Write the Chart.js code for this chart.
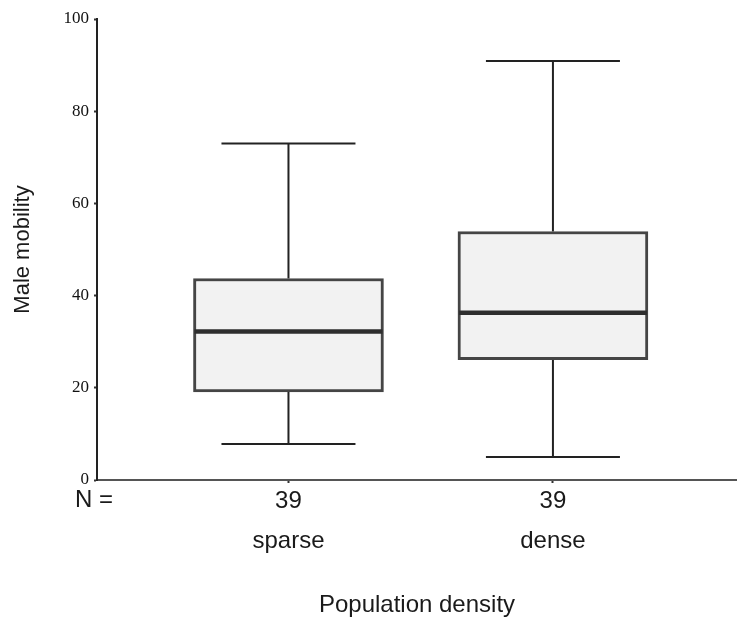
<!DOCTYPE html>
<html>
<head>
<meta charset="utf-8">
<title>Male mobility by population density</title>
<script src="https://cdn.jsdelivr.net/npm/chart.js@4"></script>
<style>
  html, body { margin: 0; padding: 0; background: #ffffff; }
  #wrap { width: 737px; height: 619px; }
</style>
</head>
<body>
<div id="wrap"><canvas id="chart" width="737" height="619"></canvas></div>
<script>
// Box-plot summary per population density group
const categories = ['sparse', 'dense'];
const sampleSizes = [39, 39];
const lowerWhisker = [7.8, 5.0];
const lowerQuartile = [19.1, 26.1];
const medians = [32.2, 36.3];
const upperQuartile = [43.7, 53.9];
const upperWhisker = [73.0, 90.9];
const yTickValues = [0, 20, 40, 60, 80, 100];

const SANS = '"Liberation Sans", Arial, Helvetica, sans-serif';
const SERIF = '"Liberation Serif", "Times New Roman", serif';

// Whiskers, caps and median lines drawn around the floating bars (the boxes)
const boxPlotParts = {
  id: 'boxPlotParts',
  beforeDatasetsDraw(chart, args, opts) {
    const xs = chart.scales.x, ys = chart.scales.y;
    const ctx = chart.ctx;
    ctx.save();
    ctx.strokeStyle = opts.whiskerColor;
    ctx.lineWidth = opts.whiskerWidth;
    ctx.lineCap = 'butt';
    categories.forEach((c, i) => {
      const cx = xs.getPixelForValue(i + 1);
      const yHi = ys.getPixelForValue(upperWhisker[i]);
      const yQ3 = ys.getPixelForValue(upperQuartile[i]);
      const yQ1 = ys.getPixelForValue(lowerQuartile[i]);
      const yLo = ys.getPixelForValue(lowerWhisker[i]);
      ctx.beginPath();
      ctx.moveTo(cx, yQ3); ctx.lineTo(cx, yHi);
      ctx.moveTo(cx, yQ1); ctx.lineTo(cx, yLo);
      ctx.moveTo(cx - opts.capHalf, yHi); ctx.lineTo(cx + opts.capHalf, yHi);
      ctx.moveTo(cx - opts.capHalf, yLo); ctx.lineTo(cx + opts.capHalf, yLo);
      ctx.stroke();
    });
    ctx.restore();
  },
  afterDatasetsDraw(chart, args, opts) {
    const ys = chart.scales.y;
    const meta = chart.getDatasetMeta(0);
    const ctx = chart.ctx;
    ctx.save();
    ctx.strokeStyle = opts.medianColor;
    ctx.lineWidth = opts.medianWidth;
    meta.data.forEach((bar, i) => {
      const p = bar.getProps(['x', 'width'], true);
      const ym = ys.getPixelForValue(medians[i]);
      ctx.beginPath();
      ctx.moveTo(p.x - p.width / 2 + 1, ym);
      ctx.lineTo(p.x + p.width / 2 - 1, ym);
      ctx.stroke();
    });
    // "N =" row label in front of the sample sizes
    const xs = chart.scales.x;
    ctx.fillStyle = '#1a1a1a';
    ctx.font = '24px ' + SANS;
    ctx.textAlign = 'left';
    ctx.textBaseline = 'middle';
    ctx.fillText('N =', opts.nLabelX, xs.top + opts.nLabelOffset);
    ctx.restore();
  }
};

new Chart(document.getElementById('chart'), {
  type: 'bar',
  data: {
    datasets: [{
      data: categories.map((c, i) => ({ x: i + 1, y: [lowerQuartile[i], upperQuartile[i]] })),
      backgroundColor: '#f2f2f2',
      borderColor: '#454545',
      borderWidth: 3,
      borderSkipped: false,
      barThickness: 190
    }]
  },
  options: {
    responsive: false,
    animation: false,
    events: [],
    layout: { padding: { top: 19, right: 0, bottom: 0, left: 0 } },
    plugins: {
      legend: { display: false },
      tooltip: { enabled: false },
      boxPlotParts: {
        whiskerColor: '#222222', whiskerWidth: 2, capHalf: 67,
        medianColor: '#2e2e2e', medianWidth: 4.5,
        nLabelX: 75, nLabelOffset: 20
      }
    },
    scales: {
      x: {
        type: 'linear',
        offset: false,
        min: 0.276,
        max: 2.696,
        afterFit: s => { s.height = 139; },
        afterBuildTicks: s => { s.ticks = categories.map((c, i) => ({ value: i + 1 })); },
        grid: { offset: false, drawOnChartArea: false, drawTicks: true, tickLength: 3, tickWidth: 2, tickColor: '#333333' },
        border: { display: true, color: '#555555', width: 2 },
        ticks: {
          color: '#1a1a1a',
          font: { family: SANS, size: 24, lineHeight: 1.68 },
          padding: -2,
          maxRotation: 0,
          autoSkip: false,
          callback: v => {
            const i = Math.round(v) - 1;
            return [String(sampleSizes[i]), categories[i]];
          }
        },
        title: {
          display: true,
          text: 'Population density',
          color: '#1a1a1a',
          font: { family: SANS, size: 24 },
          padding: { top: 0, bottom: -1 }
        }
      },
      y: {
        min: 0,
        max: 100,
        afterFit: s => { s.width = 97; },
        afterBuildTicks: s => { s.ticks = yTickValues.map(v => ({ value: v })); },
        grid: { drawOnChartArea: false, drawTicks: true, tickLength: 3, tickWidth: 2, tickColor: '#333333' },
        border: { display: true, color: '#222222', width: 2 },
        ticks: {
          color: '#111111',
          font: { family: SERIF, size: 17 },
          padding: 5
        },
        title: {
          display: true,
          text: 'Male mobility',
          color: '#1a1a1a',
          font: { family: SANS, size: 22 },
          padding: { top: 10, bottom: 0 }
        }
      }
    }
  },
  plugins: [boxPlotParts]
});
</script>
</body>
</html>
